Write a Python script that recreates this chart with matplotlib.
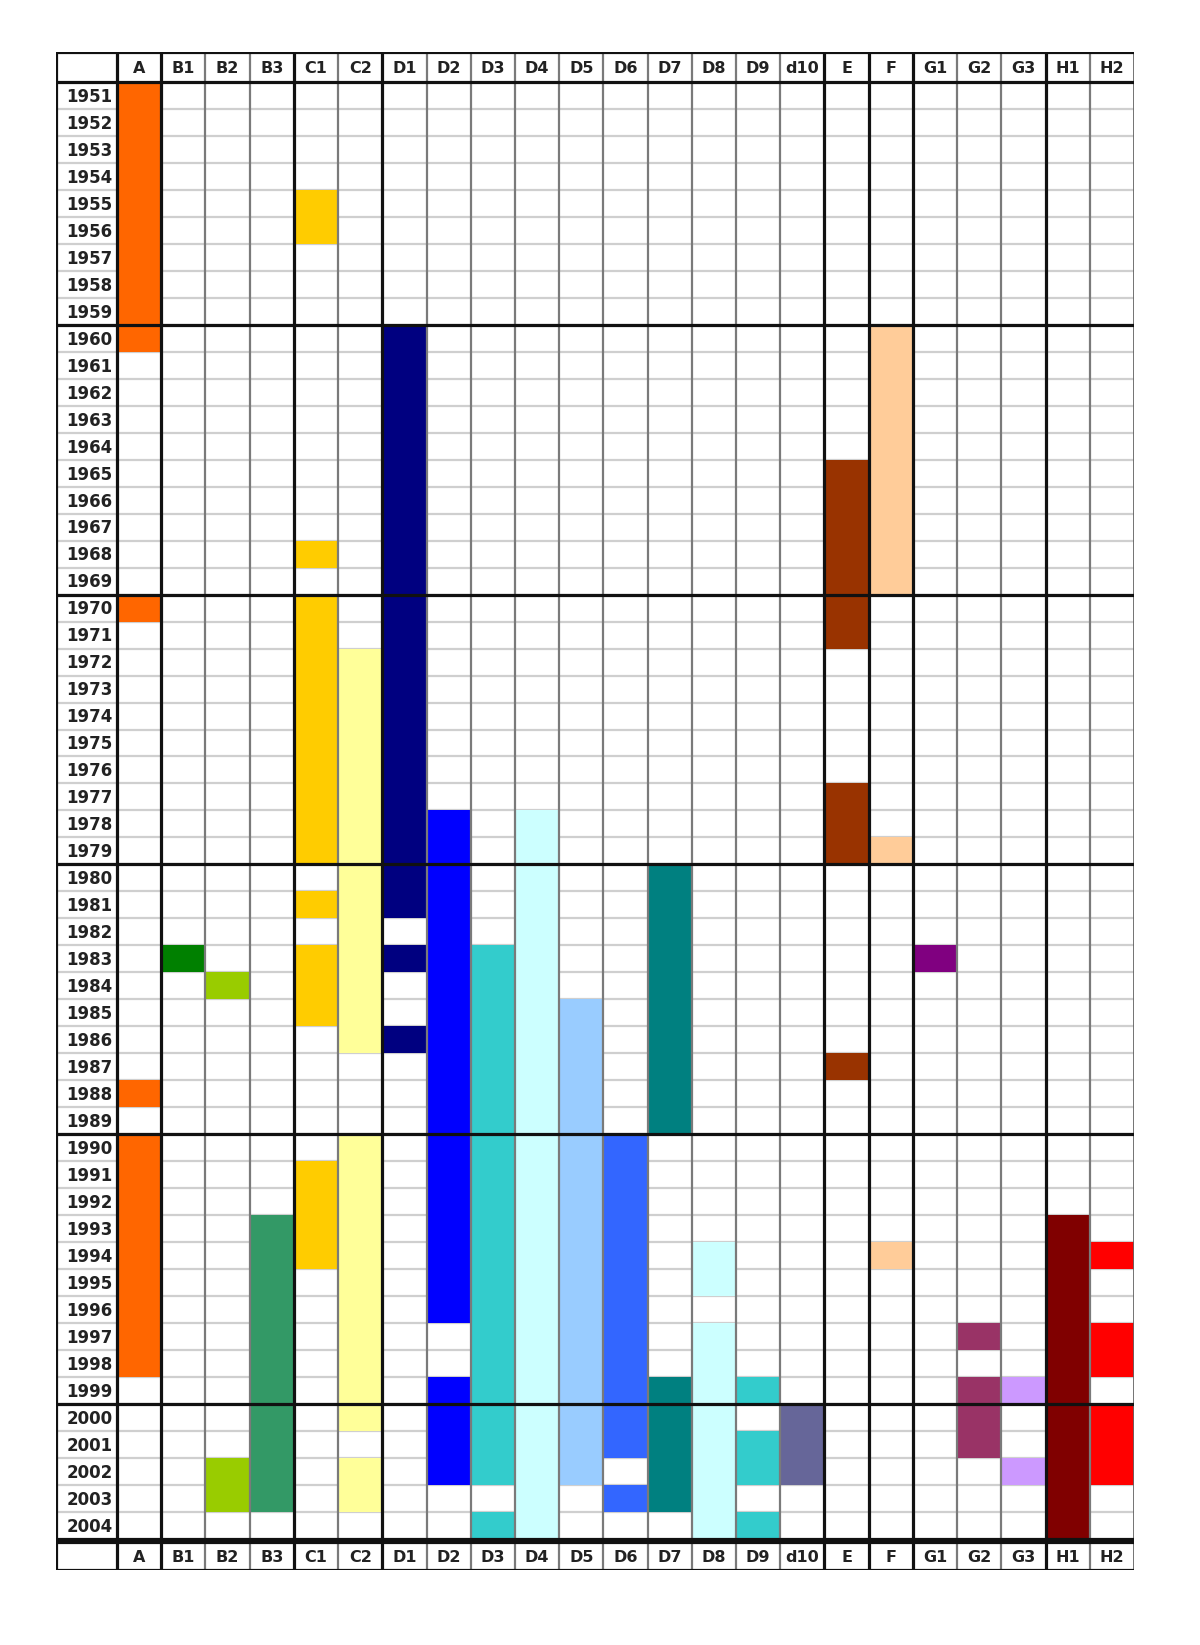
import matplotlib
matplotlib.use('Agg')
import matplotlib.pyplot as plt

# column headings and years of the table
cols = ['A', 'B1', 'B2', 'B3', 'C1', 'C2', 'D1', 'D2', 'D3', 'D4', 'D5', 'D6',
        'D7', 'D8', 'D9', 'd10', 'E', 'F', 'G1', 'G2', 'G3', 'H1', 'H2']
years = list(range(1951, 2005))

col_colors = ['#FF6600', '#008000', '#99CC00', '#339966', '#FFCC00', '#FFFF99',
              '#000080', '#0000FF', '#33CCCC', '#CCFFFF', '#99CCFF', '#3366FF',
              '#008080', '#CCFFFF', '#33CCCC', '#666699', '#993300', '#FFCC99',
              '#800080', '#993366', '#CC99FF', '#800000', '#FF0000']

# filled year spans per column (first year, last year), inclusive
spans = {
    'A': [(1951, 1960), (1970, 1970), (1988, 1988), (1990, 1998)],
    'B1': [(1983, 1983)],
    'B2': [(1984, 1984), (2002, 2003)],
    'B3': [(1993, 2003)],
    'C1': [(1955, 1956), (1968, 1968), (1970, 1979), (1981, 1981), (1983, 1985), (1991, 1994)],
    'C2': [(1972, 1986), (1990, 2000), (2002, 2003)],
    'D1': [(1960, 1981), (1983, 1983), (1986, 1986)],
    'D2': [(1978, 1996), (1999, 2002)],
    'D3': [(1983, 2002), (2004, 2004)],
    'D4': [(1978, 2004)],
    'D5': [(1985, 2002)],
    'D6': [(1990, 2001), (2003, 2003)],
    'D7': [(1980, 1989), (1999, 2003)],
    'D8': [(1994, 1995), (1997, 2004)],
    'D9': [(1999, 1999), (2001, 2002), (2004, 2004)],
    'd10': [(2000, 2002)],
    'E': [(1965, 1971), (1977, 1979), (1987, 1987)],
    'F': [(1960, 1969), (1979, 1979), (1994, 1994)],
    'G1': [(1983, 1983)],
    'G2': [(1997, 1997), (1999, 2001)],
    'G3': [(1999, 1999), (2002, 2002)],
    'H1': [(1993, 2004)],
    'H2': [(1994, 1994), (1997, 1998), (2000, 2002)],
}

# group boundaries (column index after which a thick line is drawn)
group_breaks = [0, 1, 4, 6, 16, 17, 18, 21]
decade_breaks = [0, 9, 19, 29, 39, 49, 54]

n_cols = len(cols)
n_rows = len(years)
label_w = 1.38      # width of the year column in column units
head_h = 1.11       # header height in row units
foot_top = 54.11
foot_bot = 55.15

fig = plt.figure(figsize=(12, 16.45), dpi=100)
ax = fig.add_axes([56 / 1200, 1 - 1570 / 1645, 1078 / 1200, 1518 / 1645])
ax.set_xlim(-label_w, n_cols)
ax.set_ylim(foot_bot, -head_h)
ax.axis('off')

black = '#111111'
thick = 2.3

# light row lines under the cells
for r in range(1, n_rows):
    ax.plot([-label_w, n_cols], [r, r], color='#cfcfcf', lw=1.6, zorder=1)

# coloured cells
for j, c in enumerate(cols):
    for s, e in spans[c]:
        ax.bar(j + 0.5, e - s + 1, bottom=years.index(s), width=1.0,
               color=col_colors[j], edgecolor='none', zorder=2)

# thin column lines
for j in range(1, n_cols):
    if j in group_breaks:
        continue
    ax.plot([j, j], [-head_h, foot_bot], color='#7a7a7a', lw=1.6, zorder=3)
ax.plot([n_cols, n_cols], [-head_h, foot_bot], color='#666666', lw=2.0, zorder=3)

# thick group / decade lines
for j in group_breaks:
    ax.plot([j, j], [-head_h, foot_bot], color=black, lw=thick, zorder=4)
ax.plot([-label_w, -label_w], [-head_h, foot_bot], color=black, lw=thick, zorder=4)
for r in decade_breaks:
    ax.plot([-label_w, n_cols], [r, r], color=black, lw=thick, zorder=4)
for r in [-head_h, foot_top, foot_bot]:
    ax.plot([-label_w, n_cols], [r, r], color=black, lw=thick, zorder=4)

# header / footer labels
txt = dict(fontsize=11.5, fontweight='bold', color='#222222', family='DejaVu Sans',
           ha='center', va='center', zorder=5)
for j, c in enumerate(cols):
    ax.text(j + 0.5, -head_h / 2 + 0.04, c, **txt)
    ax.text(j + 0.5, (foot_top + foot_bot) / 2 + 0.04, c, **txt)

# year labels
for i, y in enumerate(years):
    ax.text(-0.1, i + 0.55, str(y), fontsize=12, fontweight='bold', color='#222222',
            family='DejaVu Sans', ha='right', va='center', zorder=5)

fig.savefig('out.png', dpi=100, facecolor='white')
